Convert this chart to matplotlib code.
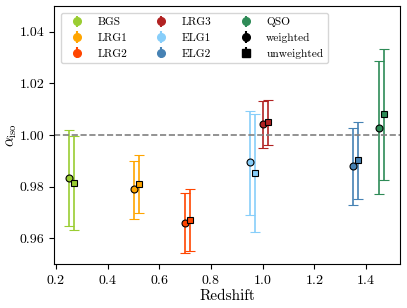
import matplotlib
matplotlib.use("Agg")
import matplotlib.pyplot as plt
import numpy as np

plt.rcParams['font.family'] = 'serif'
plt.rcParams['font.serif'] = ['cmr10', 'DejaVu Serif']
plt.rcParams['mathtext.fontset'] = 'cm'
plt.rcParams['axes.formatter.use_mathtext'] = True
plt.rcParams['font.size'] = 10

tracers = ['BGS', 'LRG1', 'LRG2', 'LRG3', 'ELG1', 'ELG2', 'QSO']
colors = ['yellowgreen', 'orange', 'orangered', 'firebrick', 'lightskyblue', 'steelblue', 'seagreen']
z_eff = [0.25, 0.50, 0.70, 1.00, 0.95, 1.35, 1.45]
dz = 0.02

# weighted
alpha_w = [0.9833, 0.9789, 0.9657, 1.0041, 0.9894, 0.9878, 1.0027]
w_hi = [1.0020, 0.9900, 0.9775, 1.0132, 1.0093, 1.0026, 1.0285]
w_lo = [0.9647, 0.9676, 0.9541, 0.9951, 0.9690, 0.9729, 0.9771]
# unweighted
alpha_u = [0.9815, 0.9809, 0.9671, 1.0049, 0.9851, 0.9903, 1.0080]
u_hi = [0.9997, 0.9921, 0.9790, 1.0137, 1.0080, 1.0052, 1.0333]
u_lo = [0.9631, 0.9697, 0.9550, 0.9961, 0.9624, 0.9753, 0.9826]

fig = plt.figure(figsize=(4.07, 3.08), dpi=100)
ax = fig.add_axes([0.1327, 0.1429, 0.850, 0.8377])

for i in range(len(tracers)):
    c = colors[i]
    ax.errorbar(z_eff[i], alpha_w[i],
                yerr=[[alpha_w[i] - w_lo[i]], [w_hi[i] - alpha_w[i]]],
                fmt='o', color=c, mec='k', mew=0.8, ms=5, capsize=3.6, elinewidth=1.2, capthick=1.2)
    ax.errorbar(z_eff[i] + dz, alpha_u[i],
                yerr=[[alpha_u[i] - u_lo[i]], [u_hi[i] - alpha_u[i]]],
                fmt='s', color=c, mec='k', mew=0.8, ms=5, capsize=3.6, elinewidth=1.2, capthick=1.2)

ax.axhline(1.0, color='gray', ls='--', lw=1.2)

# legend handles
for i in range(len(tracers)):
    ax.errorbar(np.nan, np.nan, yerr=1, fmt='o', color=colors[i], ms=5.5, label=tracers[i])
ax.errorbar(np.nan, np.nan, yerr=1, fmt='o', color='k', ms=5.5, label='weighted')
ax.errorbar(np.nan, np.nan, yerr=1, fmt='s', color='k', ms=5.5, label='unweighted')

ax.set_ylim(0.95, 1.05)
ax.set_xlim(0.192, 1.532)
ax.set_yticks([0.96, 0.98, 1.00, 1.02, 1.04])
ax.set_yticklabels(['0.96', '0.98', '1.00', '1.02', '1.04'])
ax.tick_params(labelsize=10)
ax.set_xlabel('Redshift', fontsize=11, labelpad=2)
ax.set_ylabel(r'$\alpha_{\rm iso}$', fontsize=11, labelpad=0)
ax.legend(loc='upper left', ncol=3, fontsize=8.2, borderaxespad=0.6)

fig.savefig('out.png', dpi=100)
